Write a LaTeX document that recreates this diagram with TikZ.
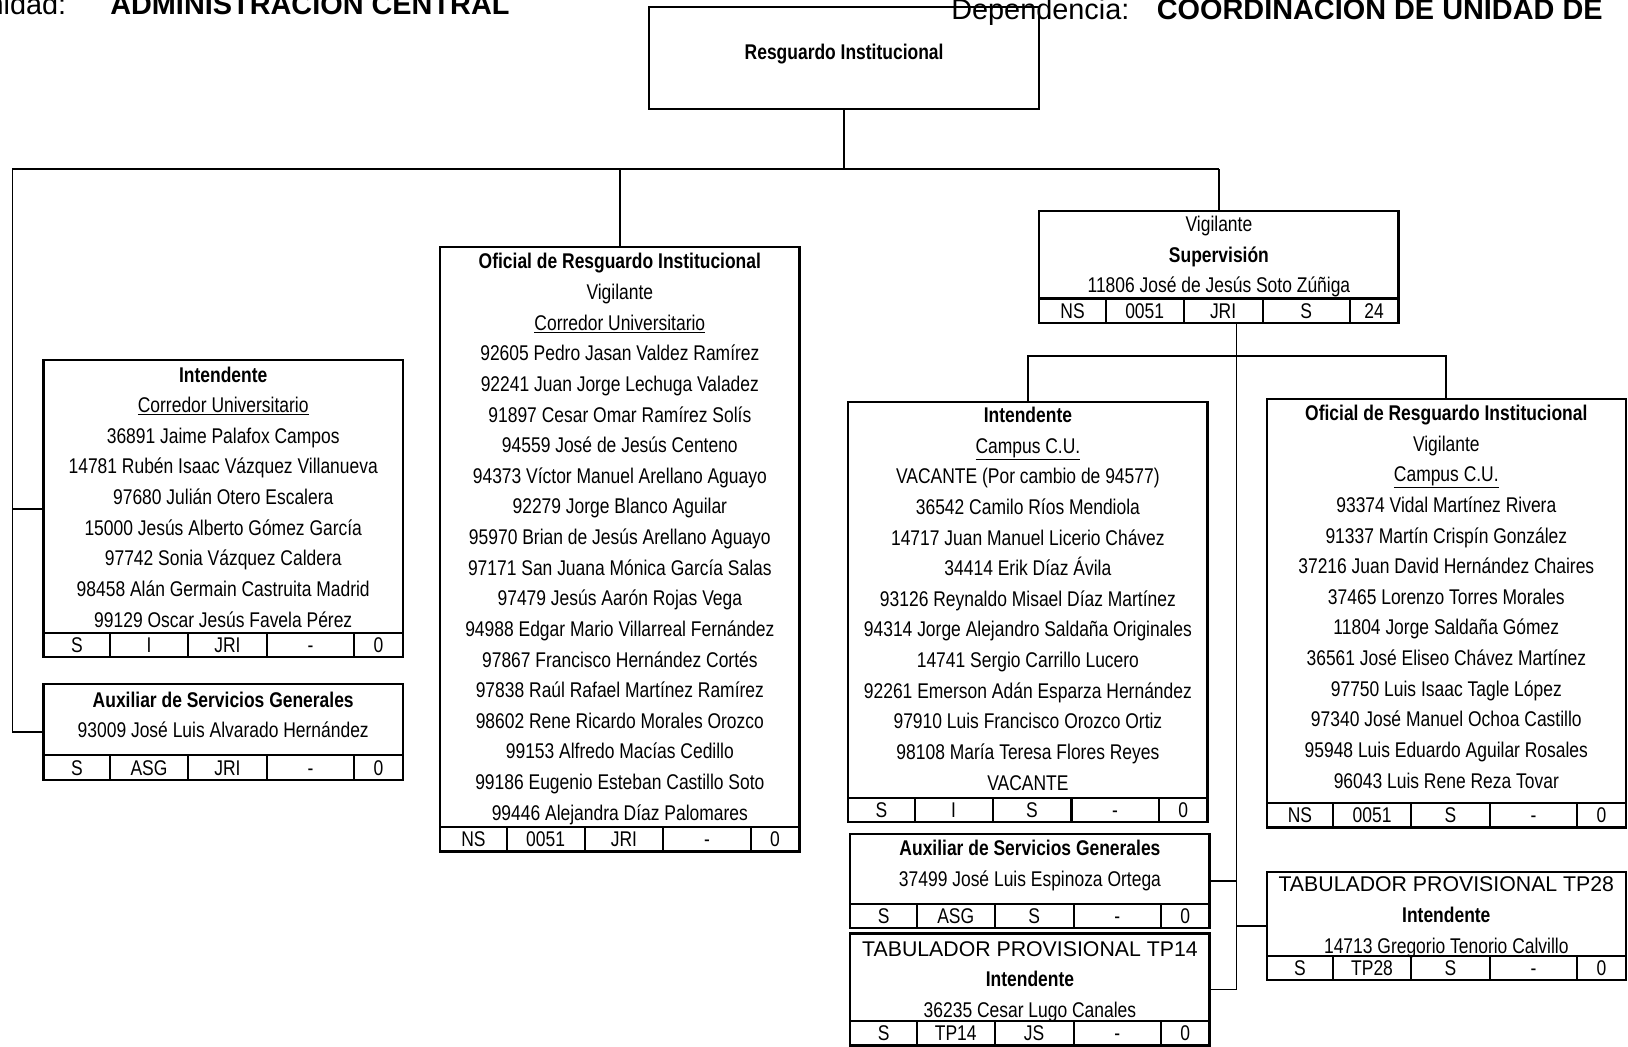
\documentclass[tikz,border=0pt]{standalone}
\usepackage{fontspec}
\setmainfont{Liberation Sans}
\newfontfamily\angosta[FakeStretch=0.82]{Liberation Sans}
\usetikzlibrary{positioning}

\tikzset{
  caja/.style={draw, line width=2.2pt, outer sep=0pt, inner sep=0pt, minimum width=346pt, anchor=north west},
  celda/.style={draw, line width=2pt, outer sep=0pt, inner sep=0pt, minimum height=23.5pt, text height=14.7pt, text depth=0pt, font=\angosta\fontsize{20.5}{24}\selectfont},
  renglon/.style={anchor=base, inner sep=0pt, font=\angosta\fontsize{20.5}{24}\selectfont},
  encabezado/.style={anchor=base, inner sep=0pt, font=\fontsize{27.8}{30}\selectfont},
  conector/.style={line width=1.6pt}
}

\newcommand{\renglones}[4]{%
  \foreach \lin [count=\i from 0] in {#4}
    \node[renglon] (#1-\i) at (#2,#3+7+29.5*\i) {\lin};}

\newcommand{\tabla}[6]{%
  \node[celda, minimum width=64pt, anchor=south west] (#1-a) at (#1.south west) {#2};
  \node[celda, minimum width=75pt, right=0pt of #1-a] (#1-b) {#3};
  \node[celda, minimum width=76pt, right=0pt of #1-b] (#1-c) {#4};
  \node[celda, minimum width=84pt, right=0pt of #1-c] (#1-d) {#5};
  \node[celda, minimum width=47pt, right=0pt of #1-d] (#1-e) {#6};}

\begin{document}
\begin{tikzpicture}[x=1pt, y=-1pt]
  \path[use as bounding box, fill=white] (0,0) rectangle (1568,1008);

  \node[encabezado, anchor=base east] (unidad) at (64,13.5) {Unidad:};
  \node[encabezado, anchor=base west] (unidadNom) at (106,13.5) {\textbf{ADMINISTRACIÓN CENTRAL}};
  \node[encabezado, anchor=base west] (dep) at (916,19) {Dependencia:};
  \node[encabezado, anchor=base west] (depNom) at (1114,19) {\textbf{COORDINACIÓN DE UNIDAD DE}};

  \node[caja, minimum width=376pt, minimum height=98pt] (resg) at (625,7) {};
  \node[renglon] (resgT) at (813,57) {\textbf{Resguardo Institucional}};

  \node[caja, minimum height=286pt] (intCorr) at (42,347) {};
  \renglones{intCorr}{215}{361}{\textbf{Intendente}, \underline{Corredor Universitario},
    36891 Jaime Palafox Campos, 14781 Rubén Isaac Vázquez Villanueva, 97680 Julián Otero Escalera,
    15000 Jesús Alberto Gómez García, 97742 Sonia Vázquez Caldera, 98458 Alán Germain Castruita Madrid,
    99129 Oscar Jesús Favela Pérez}
  \tabla{intCorr}{S}{I}{JRI}{-}{0}

  \node[caja, minimum height=92pt] (auxCorr) at (42,659) {};
  \renglones{auxCorr}{215}{674}{\textbf{Auxiliar de Servicios Generales}, 93009 José Luis Alvarado Hernández}
  \tabla{auxCorr}{S}{ASG}{JRI}{-}{0}

  \node[caja, minimum height=582pt] (ofiCorr) at (424,238) {};
  \renglones{ofiCorr}{597}{252}{\textbf{Oficial de Resguardo Institucional}, Vigilante, \underline{Corredor Universitario},
    92605 Pedro Jasan Valdez Ramírez, 92241 Juan Jorge Lechuga Valadez, 91897 Cesar Omar Ramírez Solís,
    94559 José de Jesús Centeno, 94373 Víctor Manuel Arellano Aguayo, 92279 Jorge Blanco Aguilar,
    95970 Brian de Jesús Arellano Aguayo, 97171 San Juana Mónica García Salas, 97479 Jesús Aarón Rojas Vega,
    94988 Edgar Mario Villarreal Fernández, 97867 Francisco Hernández Cortés, 97838 Raúl Rafael Martínez Ramírez,
    98602 Rene Ricardo Morales Orozco, 99153 Alfredo Macías Cedillo, 99186 Eugenio Esteban Castillo Soto,
    99446 Alejandra Díaz Palomares}
  \tabla{ofiCorr}{NS}{0051}{JRI}{-}{0}

  \node[caja, minimum height=108pt] (vigSup) at (1001,203) {};
  \renglones{vigSup}{1174}{216}{Vigilante, \textbf{Supervisión}, 11806 José de Jesús Soto Zúñiga}
  \tabla{vigSup}{NS}{0051}{JRI}{S}{24}

  \node[caja, minimum height=405pt] (intCU) at (817,387) {};
  \renglones{intCU}{990}{400}{\textbf{Intendente}, \underline{Campus C.U.}, {VACANTE (Por cambio de 94577)},
    36542 Camilo Ríos Mendiola, 14717 Juan Manuel Licerio Chávez, 34414 Erik Díaz Ávila,
    93126 Reynaldo Misael Díaz Martínez, 94314 Jorge Alejandro Saldaña Originales, 14741 Sergio Carrillo Lucero,
    92261 Emerson Adán Esparza Hernández, 97910 Luis Francisco Orozco Ortiz, 98108 María Teresa Flores Reyes,
    VACANTE}
  \tabla{intCU}{S}{I}{S}{-}{0}

  \node[caja, minimum height=91pt] (auxCU) at (819,803) {};
  \renglones{auxCU}{992}{817}{\textbf{Auxiliar de Servicios Generales}, 37499 José Luis Espinoza Ortega}
  \tabla{auxCU}{S}{ASG}{S}{-}{0}

  \node[caja, minimum height=108pt] (tp14) at (819,899) {};
  \renglones{tp14}{992}{914}{{\rmfamily TABULADOR PROVISIONAL TP14}, \textbf{Intendente}, 36235 Cesar Lugo Canales}
  \tabla{tp14}{S}{TP14}{JS}{-}{0}

  \node[caja, minimum height=413pt] (ofiCU) at (1220,384) {};
  \renglones{ofiCU}{1393}{398}{\textbf{Oficial de Resguardo Institucional}, Vigilante, \underline{Campus C.U.},
    93374 Vidal Martínez Rivera, 91337 Martín Crispín González, 37216 Juan David Hernández Chaires,
    37465 Lorenzo Torres Morales, 11804 Jorge Saldaña Gómez, 36561 José Eliseo Chávez Martínez,
    97750 Luis Isaac Tagle López, 97340 José Manuel Ochoa Castillo, 95948 Luis Eduardo Aguilar Rosales,
    96043 Luis Rene Reza Tovar}
  \tabla{ofiCU}{NS}{0051}{S}{-}{0}

  \node[caja, minimum height=104pt] (tp28) at (1220,840) {};
  \renglones{tp28}{1393}{852}{{\rmfamily TABULADOR PROVISIONAL TP28}, \textbf{Intendente}, 14713 Gregorio Tenorio Calvillo}
  \tabla{tp28}{S}{TP28}{S}{-}{0}

  \coordinate (busL) at (12,163);
  \draw[conector] (resg.south) -- (resg.south |- busL);
  \draw[conector] (busL) -- (vigSup.north |- busL);
  \draw[conector] (busL) |- (auxCorr.west);
  \draw[conector] (busL |- intCorr.west) -- (intCorr.west);
  \draw[conector] (ofiCorr.north |- busL) -- (ofiCorr.north);
  \draw[conector] (vigSup.north |- busL) -- (vigSup.north);
  \coordinate (eje) at ([xshift=17pt]vigSup.south);
  \draw[conector] (eje) -- (eje |- tp14.east) -- (tp14.east);
  \draw[conector] (eje |- auxCU.east) -- (auxCU.east);
  \draw[conector] (eje |- tp28.west) -- (tp28.west);
  \draw[conector] (intCU.north) -- ++(0,-44) -| (ofiCU.north);
\end{tikzpicture}
\end{document}
